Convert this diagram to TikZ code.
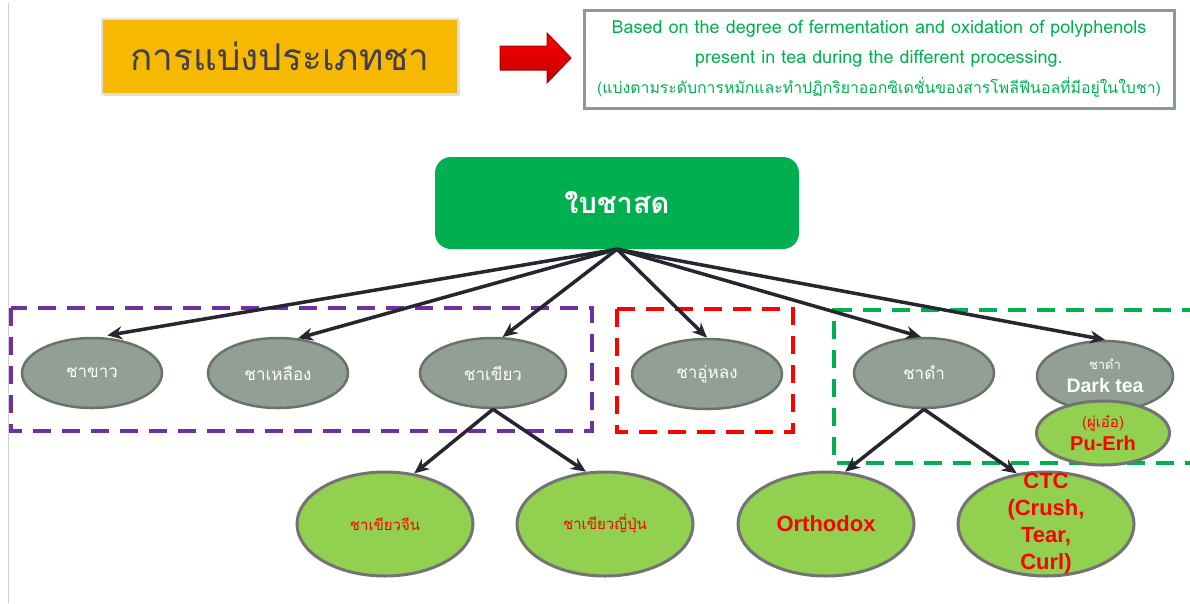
\documentclass[tikz,border=0pt]{standalone}
\usepackage{fontspec}
\setmainfont{Liberation Sans}
\newfontfamily\thai[Script=Thai]{Loma}
\usetikzlibrary{shapes.geometric,arrows.meta,shadows}
\definecolor{gold}{HTML}{F6B800}
\definecolor{titletxt}{HTML}{3F3F4F}
\definecolor{tgreen}{HTML}{00B050}
\definecolor{lgreen}{HTML}{92D050}
\definecolor{grayfill}{HTML}{919F95}
\definecolor{grayedge}{HTML}{687468}
\definecolor{boxedge}{HTML}{8C9A94}
\definecolor{arrowc}{HTML}{262630}
\definecolor{purp}{HTML}{7030A0}
\definecolor{lineg}{HTML}{D0D0D0}
\tikzset{
  grayell/.style={ellipse, fill=grayfill, draw=grayedge, line width=2.5pt, inner sep=0pt,
    minimum width=140pt, minimum height=70pt, text=white, font=\thai\fontsize{17}{20}\selectfont, align=center},
  greenell/.style={ellipse, fill=lgreen, draw=gray!90!black, line width=3pt, inner sep=0pt,
    minimum width=176pt, minimum height=104pt, text=red, align=center},
  conn/.style={draw=arrowc, line width=3.5pt, -{Stealth[length=15pt,width=13pt]}},
  dashbox/.style={line width=4.5pt, dash pattern=on 18pt off 11pt},
}
\begin{document}
\begin{tikzpicture}[x=1pt,y=-1pt]
\useasboundingbox (0,0) rectangle (1190,603);
% slide edge
\draw[lineg, line width=1pt] (8,3) -- (8,603);
% title
\node[fill=gold, draw=white!88!black, line width=2pt, minimum width=356pt, minimum height=75pt,
  drop shadow={opacity=0.25, shadow xshift=2pt, shadow yshift=-2pt},
  text=titletxt, font=\thai\fontsize{37}{44}\selectfont] (title) at (280,56) {การแบ่งประเภทชา};
% red block arrow
\shade[top color=red!100, bottom color=red!75!black, draw=red!65!black, line width=1pt]
  (500,46) -- (547,46) -- (547,33) -- (571,58) -- (547,83) -- (547,70) -- (500,70) -- cycle;
% description box
\node[draw=boxedge, line width=3pt, minimum width=590pt, minimum height=98pt, text=tgreen,
  align=center, font=\thai\fontsize{18}{30}\selectfont] (desc) at (879,59)
  {Based on the degree of fermentation and oxidation of polyphenols\\
   present in tea during the different processing.\\
   {\fontsize{15.8}{30}\selectfont (แบ่งตามระดับการหมักและทำปฏิกริยาออกซิเดชั่นของสารโพลีฟีนอลที่มีอยู่ในใบชา)}};
% dashed group boxes
\draw[dashbox, purp] (11,308) rectangle (592,431);
\draw[dashbox, red] (617,309) rectangle (793,432);
\draw[dashbox, tgreen] (1200,310) -- (834,310) -- (834,463) -- (1200,463);
% root
\node[fill=tgreen, rounded corners=16pt, minimum width=364pt, minimum height=92pt, text=white,
  font=\thai\bfseries\fontsize{29}{34}\selectfont] (root) at (617,203) {ใบชาสด};
% second level
\node[grayell] (white) at (92,373) {ชาขาว};
\node[grayell] (yellow) at (278,373) {ชาเหลือง};
\node[grayell, minimum width=146pt] (green) at (493,373) {ชาเขียว};
\node[grayell, minimum width=150pt] (oolong) at (707,374) {ชาอู่หลง};
\node[grayell] (black) at (924,373) {ชาดำ};
\node[grayell, minimum width=136pt, inner sep=-6pt] (dark) at (1105,376)
  {{\thai\fontsize{13}{15}\selectfont ชาดำ}\\[3pt]{\rmfamily\bfseries\fontsize{19.5}{21}\selectfont Dark tea}};
\node[greenell, minimum width=133pt, minimum height=64pt, inner sep=-8pt] (puerh) at (1103,433)
  {{\thai\fontsize{15}{16}\selectfont (ผู่เอ๋อ)}\\[4pt]{\bfseries\fontsize{20}{21}\selectfont Pu-Erh}};
% third level
\node[greenell, font=\thai\fontsize{15}{18}\selectfont] (chinese) at (385,524) {ชาเขียวจีน};
\node[greenell, font=\thai\fontsize{15}{18}\selectfont] (japanese) at (605,524) {ชาเขียวญี่ปุ่น};
\node[greenell, font=\bfseries\fontsize{22}{26}\selectfont] (orthodox) at (826,524) {Orthodox};
\node[greenell, inner sep=-16pt, font=\bfseries\fontsize{22}{27}\selectfont] (ctc) at (1046,524) {CTC\\(Crush,\\Tear,\\Curl)};
% connectors
\draw[conn, shorten >=9pt] (root.south) -- (white.80);
\draw[conn] (root.south) -- (yellow.60);
\draw[conn] (root.south) -- (green.75);
\draw[conn] (root.south) -- (oolong.north);
\draw[conn] (root.south) -- (black.95);
\draw[conn] (root.south) -- (dark.north);
\draw[conn] (green.south) -- (chinese.60);
\draw[conn] (green.south) -- (japanese.110);
\draw[conn] (black.south) -- (orthodox.70);
\draw[conn] (black.south) -- (ctc.120);
\end{tikzpicture}
\end{document}
